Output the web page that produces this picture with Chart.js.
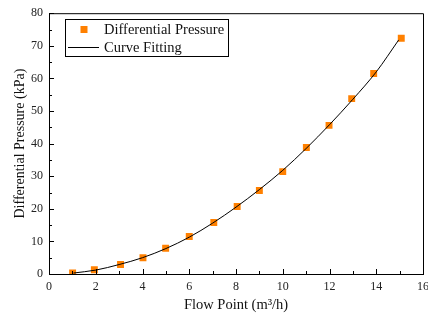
<!DOCTYPE html>
<html>
<head>
<meta charset="utf-8">
<script src="https://cdn.jsdelivr.net/npm/chart.js@4/dist/chart.umd.min.js"></script>
<style>
  html, body { margin: 0; padding: 0; background: #fff; }
  #wrap { width: 428px; height: 321px; }
</style>
</head>
<body>
<div id="wrap"><canvas id="c" width="428" height="321"></canvas></div>
<script>
// Measured differential pressure at each flow point
const flowPoint = [1.01, 1.94, 3.06, 4.02, 4.99, 6.0, 7.05, 8.05, 9.0, 10.0, 11.01, 11.98, 12.95, 13.89, 15.07];
const pressure  = [0.3, 1.3, 2.9, 5.0, 7.9, 11.5, 15.8, 20.7, 25.6, 31.4, 38.8, 45.6, 53.8, 61.5, 72.3];

// Fitted curve, sampled along the flow range
const fitFlow     = [1.05, 2, 3, 4, 5, 6, 7, 8, 9, 10, 11, 12, 13, 14, 14.96];
const fitPressure = [0.3, 1.2, 2.9, 5.0, 7.8, 11.3, 15.6, 20.5, 25.9, 31.8, 38.5, 45.8, 53.6, 62.0, 71.8];

const xTicks = [0, 2, 4, 6, 8, 10, 12, 14, 16];
const yTicks = [0, 10, 20, 30, 40, 50, 60, 70, 80];

const seriesNames = ['Differential Pressure', 'Curve Fitting'];
const axisTitles = { x: 'Flow Point (m\u00B3/h)', y: 'Differential Pressure (kPa)' };

const SERIF = '"Liberation Serif", "Times New Roman", serif';
const ORANGE = 'rgb(255,128,0)';

const toXY = (xs, ys) => xs.map((x, i) => ({ x, y: ys[i] }));

// Frame on top/right plus inward major and minor ticks
const framePlugin = {
  id: 'frame',
  afterDraw(chart) {
    const { ctx, chartArea: a, scales } = chart;
    ctx.save();
    ctx.strokeStyle = '#000';
    ctx.lineWidth = 1;
    ctx.beginPath();
    ctx.moveTo(a.left, a.top + 0.5);
    ctx.lineTo(a.right + 0.5, a.top + 0.5);
    ctx.lineTo(a.right + 0.5, a.bottom);
    ctx.stroke();

    ctx.beginPath();
    const xs = scales.x, ys = scales.y;
    for (let v = xs.min; v <= xs.max; v += 1) {
      const px = Math.round(xs.getPixelForValue(v)) + 0.5;
      const len = (v % 2 === 0) ? 5 : 3;
      ctx.moveTo(px, a.bottom);
      ctx.lineTo(px, a.bottom - len);
    }
    for (let v = ys.min; v <= ys.max; v += 5) {
      const py = Math.round(ys.getPixelForValue(v)) + 0.5;
      const len = (v % 10 === 0) ? 5 : 3;
      ctx.moveTo(a.left, py);
      ctx.lineTo(a.left + len, py);
    }
    ctx.stroke();
    ctx.restore();
  }
};

// Boxed legend in the upper-left of the plot
const legendBoxPlugin = {
  id: 'legendBox',
  afterDraw(chart) {
    const { ctx } = chart;
    const ds = chart.data.datasets;
    ctx.save();
    ctx.strokeStyle = '#000';
    ctx.lineWidth = 1;
    ctx.strokeRect(65.5, 19.5, 163, 37);

    ctx.fillStyle = ds[0].backgroundColor;
    ctx.fillRect(80.5, 26, 7, 7);

    ctx.strokeStyle = ds[1].borderColor;
    ctx.beginPath();
    ctx.moveTo(68, 47.5);
    ctx.lineTo(99, 47.5);
    ctx.stroke();

    ctx.fillStyle = '#111';
    ctx.font = '14.5px ' + SERIF;
    ctx.textBaseline = 'middle';
    ctx.textAlign = 'left';
    ctx.fillText(ds[0].label, 104, 30);
    ctx.fillText(ds[1].label, 104, 48);
    ctx.restore();
  }
};

new Chart(document.getElementById('c'), {
  type: 'scatter',
  data: {
    datasets: [
      {
        label: seriesNames[0],
        data: toXY(flowPoint, pressure),
        pointStyle: 'rect',
        pointRadius: 4.9,
        backgroundColor: ORANGE,
        borderColor: ORANGE,
        borderWidth: 0,
        showLine: false,
        order: 2
      },
      {
        label: seriesNames[1],
        data: toXY(fitFlow, fitPressure),
        showLine: true,
        borderColor: '#000',
        borderWidth: 1,
        pointRadius: 0,
        cubicInterpolationMode: 'monotone',
        fill: false,
        order: 1
      }
    ]
  },
  options: {
    responsive: false,
    animation: false,
    devicePixelRatio: 1,
    layout: { padding: { left: 0, right: 5, top: 10, bottom: 0 } },
    plugins: { legend: { display: false }, tooltip: { enabled: false } },
    scales: {
      x: {
        type: 'linear',
        min: 0, max: 16,
        afterBuildTicks: s => { s.ticks = xTicks.map(v => ({ value: v })); },
        afterFit: s => { s.height = 47; s.paddingLeft = 0; s.paddingRight = 0; },
        grid: { display: true, drawOnChartArea: false, drawTicks: false },
        border: { display: true, color: '#000', width: 1 },
        ticks: { padding: 6, color: '#222', font: { family: SERIF, size: 12 }, autoSkip: false, maxRotation: 0 },
        title: { display: true, text: axisTitles.x, color: '#111', font: { family: SERIF, size: 14.5 }, padding: { top: 0, bottom: 7 } }
      },
      y: {
        type: 'linear',
        min: 0, max: 80,
        afterBuildTicks: s => { s.ticks = yTicks.map(v => ({ value: v })); },
        afterFit: s => { s.width = 49; },
        grid: { display: true, drawOnChartArea: false, drawTicks: false },
        border: { display: true, color: '#000', width: 1 },
        ticks: { padding: 6, color: '#222', font: { family: SERIF, size: 12 }, autoSkip: false },
        title: { display: true, text: axisTitles.y, color: '#111', font: { family: SERIF, size: 14 }, padding: { top: 12, bottom: 0 } }
      }
    }
  },
  plugins: [framePlugin, legendBoxPlugin]
});
</script>
</body>
</html>
